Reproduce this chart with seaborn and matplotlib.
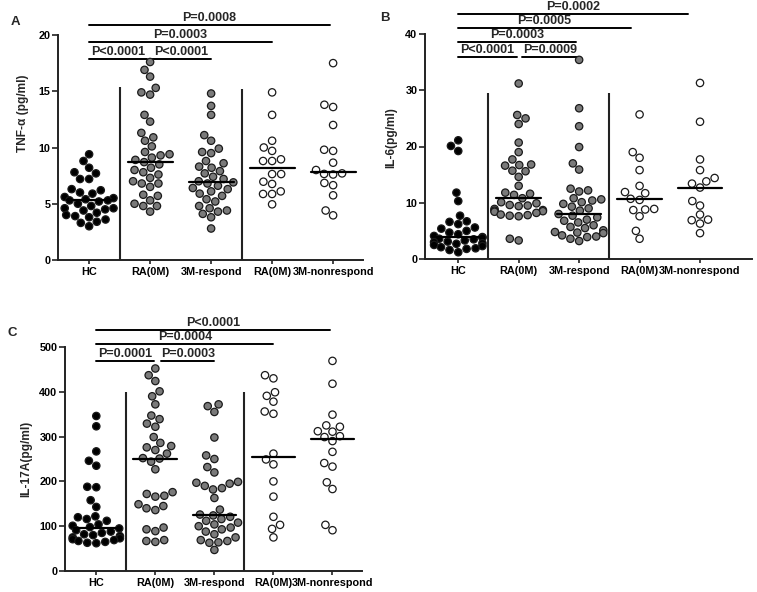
import numpy as np
import pandas as pd
import matplotlib
matplotlib.use("Agg")
import matplotlib.pyplot as plt
import seaborn as sns

# group keys (unique) and what is printed under the axis
groups = ["HC", "RA0M_resp", "3M_resp", "RA0M_nonresp", "3M_nonresp"]
tick_labels = ["HC", "RA(0M)", "3M-respond", "RA(0M)", "3M-nonrespond"]
fill_colors = ["#000000", "#7a7a7a", "#7a7a7a", "#ffffff", "#ffffff"]

# ---- TNF-alpha (pg/ml)
tnf_hc = [9.4, 8.8, 8.2, 7.8, 7.7, 7.2, 7.2, 6.3, 6.2, 6.0, 5.9, 5.6, 5.5, 5.4, 5.3, 5.3,
          5.2, 5.0, 4.8, 4.6, 4.6, 4.5, 4.4, 4.2, 4.0, 3.9, 3.8, 3.6, 3.4, 3.3, 3.0]
tnf_ra_resp = [17.6, 16.9, 16.3, 15.3, 14.9, 14.7, 12.9, 12.3, 11.3, 10.9, 10.6, 10.1, 9.6,
               9.4, 9.3, 9.1, 8.9, 8.7, 8.5, 8.2, 8.0, 7.8, 7.6, 7.3, 7.0, 6.8, 6.8, 6.5,
               5.8, 5.7, 5.3, 5.0, 4.8, 4.8, 4.3]
tnf_3m_resp = [14.8, 13.7, 12.9, 11.1, 10.6, 9.9, 9.6, 9.5, 8.8, 8.6, 8.3, 8.2, 7.9, 7.7,
               7.4, 7.2, 7.0, 6.9, 6.8, 6.6, 6.4, 6.3, 6.1, 5.9, 5.7, 5.4, 5.2, 4.8, 4.6,
               4.4, 4.3, 4.1, 3.8, 2.8]
tnf_ra_nonresp = [14.9, 12.9, 10.6, 10.0, 9.7, 8.95, 8.8, 8.8, 7.64, 7.64, 6.96, 6.76,
                  6.1, 5.87, 5.87, 4.95]
tnf_3m_nonresp = [17.5, 13.8, 13.6, 12.0, 9.8, 9.7, 8.65, 8.0, 7.7, 7.65, 7.6, 6.85,
                  6.65, 5.75, 4.4, 3.97]
tnf_medians = [5.3, 8.75, 6.9, 8.2, 7.85]
tnf_pvals = ["P=0.0008", "P=0.0003", "P<0.0001", "P<0.0001"]
tnf_pairs = [(0, 3.95), (0, 3), (0, 0.95), (1.02, 2)]

# ---- IL-6 (pg/ml), panel B
il6_hc = [21.1, 20.1, 19.2, 11.8, 10.3, 7.7, 6.7, 6.6, 6.2, 5.6, 5.4, 5.0, 4.7, 4.4, 4.1,
          3.9, 3.8, 3.6, 3.5, 3.3, 3.1, 3.0, 2.8, 2.7, 2.5, 2.3, 2.1, 1.9, 1.8, 1.6, 1.2]
il6_ra_resp = [31.2, 25.6, 25.0, 24.0, 20.7, 19.0, 17.7, 16.8, 16.7, 16.6, 15.7, 15.6,
               14.6, 13.0, 11.8, 11.6, 11.4, 10.8, 10.1, 9.9, 9.6, 9.5, 9.4, 8.9, 8.7,
               8.6, 8.5, 8.4, 8.2, 7.9, 7.8, 7.7, 7.6, 3.6, 3.3]
il6_3m_resp = [35.4, 26.8, 23.6, 19.9, 17.0, 15.9, 12.5, 12.2, 12.0, 10.8, 10.6, 10.4,
               10.1, 9.8, 9.3, 9.0, 8.6, 8.0, 7.7, 7.4, 7.0, 6.8, 6.5, 6.0, 5.7, 5.5,
               5.1, 4.8, 4.7, 4.6, 4.2, 4.0, 3.9, 3.6, 3.2]
il6_ra_nonresp = [25.7, 19.0, 18.0, 15.8, 13.0, 11.9, 11.7, 10.7, 10.5, 8.9, 8.8, 8.7,
                  7.6, 5.0, 3.6]
il6_3m_nonresp = [31.3, 24.4, 17.7, 15.8, 14.4, 13.8, 13.4, 12.7, 10.3, 9.5, 7.9, 7.0,
                  6.9, 6.3, 4.6]
il6_medians = [3.85, 10.8, 8.0, 10.6, 12.7]
il6_pvals = ["P=0.0002", "P=0.0005", "P=0.0003", "P<0.0001", "P=0.0009"]
il6_pairs = [(0, 3.8), (0, 2.85), (0, 1.95), (0, 0.97), (1.06, 1.98)]

# ---- IL-17A (pg/ml), panel C
il17_hc = [346, 323, 267, 246, 235, 188, 187, 158, 143, 122, 120, 116, 112, 104, 101, 98,
           95, 91, 88, 85, 82, 80, 78, 75, 73, 71, 69, 67, 65, 63, 62]
il17_ra_resp = [452, 437, 424, 401, 390, 372, 347, 339, 329, 322, 299, 286, 279, 276, 270,
                262, 252, 251, 244, 227, 176, 172, 168, 166, 149, 145, 140, 136, 97, 93,
                89, 69, 67, 65]
il17_3m_resp = [372, 368, 355, 298, 258, 250, 232, 220, 199, 197, 195, 190, 185, 182, 163,
                137, 126, 124, 121, 116, 112, 108, 104, 100, 97, 93, 88, 82, 75, 69, 67,
                64, 63, 47]
il17_ra_nonresp = [437, 430, 399, 391, 378, 356, 351, 262, 249, 238, 200, 166, 121, 103,
                   94, 75]
il17_3m_nonresp = [469, 418, 349, 325, 322, 312, 311, 301, 299, 290, 266, 241, 233, 198,
                   183, 103, 91]
il17_medians = [97, 249, 124, 255, 294]
il17_pvals = ["P<0.0001", "P=0.0004", "P=0.0001", "P=0.0003"]
il17_pairs = [(0, 3.95), (0, 3), (0, 0.97), (1.1, 2)]


def long_df(cols):
    rows = []
    for g, vals in zip(groups, cols):
        for v in vals:
            rows.append((g, v))
    return pd.DataFrame(rows, columns=["group", "value"])


def draw_panel(ax, cols, medians, pvals, pairs, bar_y, ymax, step, ylabel,
               sep_top, xlim, label_xy):
    df = long_df(cols)
    sns.swarmplot(data=df, x="group", y="value", hue="group", order=groups,
                  hue_order=groups, palette=fill_colors, size=5.3, linewidth=0.9,
                  edgecolor="#1a1a1a", legend=False, ax=ax, clip_on=False)
    # median bars
    for i, m in enumerate(medians):
        ax.plot([i - 0.37, i + 0.37], [m, m], color="black", lw=1.6, zorder=5)
    # separators between groups
    ax.vlines([0.5, 2.5], 0, sep_top, color="#222222", lw=1.5)
    # significance bars
    for txt, (a, b), y in zip(pvals, pairs, bar_y):
        ax.plot([a, b], [y, y], color="black", lw=1.4, clip_on=False)
        ax.text((a + b) / 2, y + ymax * 0.004, txt, ha="center", va="bottom",
                fontsize=9, fontweight="bold", clip_on=False)

    ax.set_xlim(*xlim)
    ax.set_ylim(0, ymax)
    ax.set_yticks(np.arange(0, ymax + step / 2, step))
    ax.set_xticks(range(len(groups)))
    ax.set_xticklabels(tick_labels)
    ax.set_xlabel("")
    ax.set_ylabel(ylabel, fontsize=8.6, fontweight="bold")
    ax.yaxis.set_label_coords(*label_xy)
    sns.despine(ax=ax)
    for sp in ["left", "bottom"]:
        ax.spines[sp].set_linewidth(1.4)
        ax.spines[sp].set_color("#222222")
    ax.tick_params(axis="y", length=4, width=1.2, colors="#222222", labelsize=7.8,
                   labelcolor="black", pad=1.5)
    ax.tick_params(axis="x", length=3, width=1.2, colors="#222222", labelsize=7.8,
                   labelcolor="black", pad=2)
    for t in ax.get_xticklabels() + ax.get_yticklabels():
        t.set_fontweight("bold")


sns.set_style("ticks")
plt.rcParams["font.family"] = ["Liberation Sans", "DejaVu Sans"]

fig = plt.figure(figsize=(7.57, 5.92), dpi=100)
W, H = 757, 592


def axes_px(left, right, bottom, top):
    return fig.add_axes([left / W, (H - bottom) / H, (right - left) / W, (bottom - top) / H])


ax_a = axes_px(58, 363, 260, 35)
ax_b = axes_px(425, 752, 259, 34)
ax_c = axes_px(65, 362, 571, 347)

draw_panel(ax_a, [tnf_hc, tnf_ra_resp, tnf_3m_resp, tnf_ra_nonresp, tnf_3m_nonresp],
           tnf_medians, tnf_pvals, tnf_pairs, [20.9, 19.4, 17.9, 17.9], 20, 5,
           "TNF-\u03b1 (pg/ml)", [15.4, 15.2], (-0.51, 4.49), (-0.095, 0.65))
draw_panel(ax_b, [il6_hc, il6_ra_resp, il6_3m_resp, il6_ra_nonresp, il6_3m_nonresp],
           il6_medians, il6_pvals, il6_pairs, [43.6, 41.1, 38.6, 35.9, 35.9], 40, 10,
           "IL-6(pg/ml)", [29.5, 29.5], (-0.55, 4.86), (-0.085, 0.54))
draw_panel(ax_c, [il17_hc, il17_ra_resp, il17_3m_resp, il17_ra_nonresp, il17_3m_nonresp],
           il17_medians, il17_pvals, il17_pairs, [538, 507, 469, 469], 500, 100,
           "IL-17A(pg/ml)", [400, 400], (-0.53, 4.5), (-0.11, 0.5))

for letter, x, y in [("A", 15, 22), ("B", 385, 18), ("C", 12, 333)]:
    fig.text(x / W, 1 - y / H, letter, fontsize=9.5, fontweight="bold",
             ha="center", va="center")

fig.savefig("out.png", dpi=100)
